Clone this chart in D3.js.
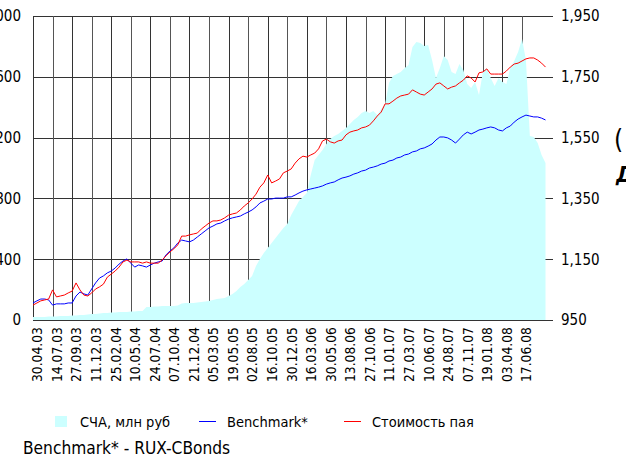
<!DOCTYPE html>
<meta charset="utf-8">
<script src="https://d3js.org/d3.v7.min.js"></script>
<style>
  body { margin: 0; background: #fff; }
  svg text { font-family: "DejaVu Sans Condensed", "DejaVu Sans", sans-serif; fill: #000; }
</style>
<div id="chart"></div>
<script>

// category labels on the x axis (one every 5 data points)
const tickLabels = ["30.04.03","14.07.03","27.09.03","11.12.03","25.02.04","10.05.04","24.07.04",
  "07.10.04","21.12.04","05.03.05","19.05.05","02.08.05","16.10.05","30.12.05","16.03.06",
  "30.05.06","13.08.06","27.10.06","11.01.07","27.03.07","10.06.07","24.08.07","07.11.07",
  "19.01.08","03.04.08","17.06.08"];
const pointsPerTick = 5;

// СЧА, млн руб (left axis)
const scha = [20,20,20,20,23,23,23,26,26,26,
  30,30,33,33,36,39,39,43,46,46,
  49,49,53,53,53,56,56,59,59,86,
  86,89,89,92,92,92,92,95,109,112,
  112,112,115,118,122,125,132,138,141,145,
  158,171,191,217,237,263,289,355,401,441,
  474,507,539,572,605,632,691,737,783,809,
  836,954,1053,1086,1118,1158,1191,1211,1224,1243,
  1263,1289,1316,1336,1362,1375,1362,1375,1349,1388,
  1421,1559,1605,1618,1632,1658,1678,1796,1829,1822,
  1803,1809,1711,1592,1658,1737,1711,1632,1618,1684,
  1645,1553,1526,1566,1480,1632,1658,1592,1540,1592,
  1566,1553,1658,1704,1763,1849,1711,1211,1204,1165,
  1086,1033];

// Benchmark* (right axis)
const benchmark = [1006,1013,1019,1019,1016,999,1003,1003,1003,1006,
  1006,1029,1042,1036,1032,1052,1072,1088,1095,1105,
  1111,1121,1134,1144,1151,1137,1124,1131,1128,1124,
  1131,1137,1141,1144,1164,1177,1187,1203,1213,1210,
  1207,1213,1223,1233,1243,1253,1259,1266,1269,1276,
  1282,1286,1289,1292,1299,1305,1312,1322,1335,1341,
  1348,1348,1351,1351,1351,1355,1355,1361,1368,1374,
  1378,1381,1384,1387,1391,1397,1401,1404,1411,1417,
  1420,1424,1430,1434,1440,1443,1450,1453,1457,1463,
  1466,1473,1476,1483,1486,1493,1496,1503,1506,1513,
  1516,1522,1529,1542,1552,1552,1549,1542,1532,1545,
  1559,1568,1562,1568,1575,1578,1582,1585,1582,1575,
  1572,1582,1588,1601,1611,1618,1624,1621,1618,1618,
  1614,1608];

// Стоимость пая (right axis)
const unitPrice = [999,1006,1013,1016,1019,1049,1026,1029,1032,1039,
  1045,1072,1049,1032,1029,1039,1052,1059,1068,1091,
  1101,1111,1124,1141,1147,1141,1141,1141,1137,1141,
  1137,1137,1137,1147,1161,1174,1184,1197,1226,1226,
  1230,1233,1236,1249,1259,1269,1276,1276,1279,1286,
  1295,1299,1302,1312,1325,1335,1348,1364,1387,1401,
  1427,1401,1407,1414,1434,1440,1447,1466,1480,1489,
  1486,1493,1499,1513,1539,1545,1536,1532,1539,1542,
  1559,1568,1572,1575,1582,1585,1591,1605,1621,1634,
  1661,1661,1670,1680,1687,1690,1693,1707,1700,1693,
  1690,1700,1710,1726,1730,1720,1710,1716,1720,1730,
  1739,1753,1746,1733,1763,1766,1776,1759,1759,1759,
  1759,1769,1782,1792,1795,1802,1809,1812,1812,1805,
  1795,1782];

const leftTicks = [0, 400, 800, 1200, 1600, 2000];
const rightTicks = [950, 1150, 1350, 1550, 1750, 1950];

const width = 626, height = 458;
const plot = {left: 33, right: 545.5, top: 16, bottom: 320, axisRight: 547};

const svg = d3.select("#chart")
  .append("svg")
    .attr("width", width)
    .attr("height", height);

const x = d3.scaleLinear().domain([0, scha.length - 1]).range([plot.left, plot.right]);
const yLeft = d3.scaleLinear().domain([0, 2000]).range([plot.bottom, plot.top]);
const yRight = d3.scaleLinear().domain([950, 1950]).range([plot.bottom, plot.top]);

const crisp = v => Math.round(v) + 0.5;

// grid (drawn first so the area covers it)
const grid = svg.append("g").attr("shape-rendering", "crispEdges");
grid.selectAll(".hgrid")
  .data(leftTicks)
  .join("line")
    .attr("x1", plot.left).attr("x2", plot.axisRight + 6)
    .attr("y1", d => crisp(yLeft(d))).attr("y2", d => crisp(yLeft(d)))
    .attr("stroke", "#333");
grid.selectAll(".vgrid")
  .data(tickLabels)
  .join("line")
    .attr("x1", (d, i) => crisp(x(i * pointsPerTick)))
    .attr("x2", (d, i) => crisp(x(i * pointsPerTick)))
    .attr("y1", plot.top).attr("y2", plot.bottom)
    .attr("stroke", (d, i) => i % 2 ? "#555" : "#333");

// СЧА area
svg.append("path")
  .datum(scha)
  .attr("fill", "#ccffff")
  .attr("d", d3.area()
    .x((d, i) => x(i))
    .y0(plot.bottom)
    .y1(d => yLeft(d)));

// lines
const line = d3.line().x((d, i) => x(i)).y(d => yRight(d));
svg.append("path").datum(benchmark)
  .attr("fill", "none").attr("stroke", "#0000ff").attr("stroke-width", 1)
  .attr("d", line);
svg.append("path").datum(unitPrice)
  .attr("fill", "none").attr("stroke", "#ff0000").attr("stroke-width", 1)
  .attr("d", line);

// left axis labels (partly off the page, as in the source image)
svg.append("g")
  .attr("transform", `translate(${plot.left},0)`)
  .call(d3.axisLeft(yLeft).tickValues(leftTicks).tickSize(0).tickPadding(12).tickFormat(d3.format(",")))
  .call(g => g.select(".domain").remove())
  .selectAll("text").attr("font-size", 15).attr("font-family", null);

// right axis
svg.append("g")
  .attr("transform", `translate(${plot.axisRight},0)`)
  .call(d3.axisRight(yRight).tickValues(rightTicks).tickSize(6).tickPadding(8).tickFormat(d3.format(",")))
  .call(g => g.select(".domain").remove())
  .call(g => g.selectAll("line").attr("stroke", "#333").attr("shape-rendering", "crispEdges"))
  .selectAll("text").attr("font-size", 15).attr("font-family", null);

// x labels (rotated)
svg.append("g")
  .selectAll("text")
  .data(tickLabels)
  .join("text")
    .attr("transform", (d, i) => `translate(${x(i * pointsPerTick) + 4.5},327) rotate(-90)`)
    .attr("text-anchor", "end")
    .attr("dy", "0.35em")
    .attr("font-size", 13.75)
    .text(d => d);

// legend
const legend = svg.append("g").attr("font-size", 14.5);
legend.append("rect").attr("x", 55).attr("y", 416).attr("width", 12).attr("height", 11).attr("fill", "#ccffff");
legend.append("text").attr("x", 80).attr("y", 427).text("СЧА, млн руб");
legend.append("line").attr("x1", 199).attr("x2", 216).attr("y1", 421.5).attr("y2", 421.5).attr("stroke", "#0000ff");
legend.append("text").attr("x", 227).attr("y", 427).text("Benchmark*");
legend.append("line").attr("x1", 344).attr("x2", 361).attr("y1", 421.5).attr("y2", 421.5).attr("stroke", "#ff0000");
legend.append("text").attr("x", 372).attr("y", 427).text("Стоимость пая");

svg.append("text").attr("x", 23).attr("y", 454).attr("font-size", 17.2).text("Benchmark* - RUX-CBonds");

// cut-off axis title at the right edge
svg.append("text").attr("x", 614).attr("y", 148).attr("font-size", 26).text("(");
svg.append("text").attr("x", 616).attr("y", 182).attr("font-size", 22)
  .attr("font-weight", "bold").attr("font-style", "italic").text("Д");

</script>
